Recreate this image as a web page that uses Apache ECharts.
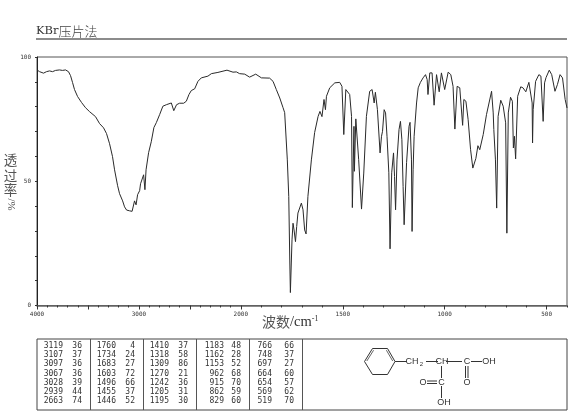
<!DOCTYPE html>
<html>
<head>
<meta charset="utf-8">
<style>html,body{margin:0;padding:0;background:#fff}#c{width:570px;height:417px}</style>
<script src="https://cdn.jsdelivr.net/npm/echarts@6/dist/echarts.min.js"></script>
</head>
<body>
<div id="c"></div>
<script>
const wavenumbers = [4000,3975,3936,3907,3877,3848,3818,3779,3750,3720,3691,3671,3651,3632,3602,3563,3524,3484,3426,3386,3347,3318,3288,3259,3239,3209,3190,3160,3141,3121,3092,3067,3060,3043,3028,3013,2993,2984,2954,2941,2930,2905,2879,2853,2829,2797,2765,2731,2682,2658,2631,2601,2561,2535,2509,2486,2453,2421,2388,2323,2289,2225,2136,2077,2044,2012,1981,1957,1927,1899,1859,1842,1826,1809,1793,1785,1772,1765,1760,1757,1749,1744,1739,1732,1726,1720,1703,1695,1687,1680,1671,1654,1638,1621,1612,1602,1592,1585,1580,1564,1539,1515,1504,1495,1485,1477,1466,1457,1453,1445,1443,1436,1422,1408,1397,1384,1368,1356,1346,1340,1330,1317,1310,1305,1297,1290,1283,1274,1268,1260,1251,1246,1241,1234,1224,1217,1210,1204,1199,1192,1187,1175,1170,1163,1160,1155,1150,1138,1130,1119,1106,1094,1086,1082,1073,1062,1052,1040,1027,1016,1008,1000,983,970,959,950,939,926,912,906,896,885,873,862,847,837,828,811,795,770,762,759,751,745,738,725,713,701,695,688,677,668,663,658,652,642,627,616,602,587,579,571,569,566,554,538,528,517,510,503,487,475,459,447,434,422,409,400];
const transmittance = [94.8,94.1,93.5,94.1,94.4,94.1,94.6,94.8,94.6,94.8,94.1,92.5,89.7,86.9,84.1,81.7,79.6,78.0,76.0,73.2,71.5,69.2,65.1,59.9,54.6,48.2,45.0,42.1,39.7,38.4,38.1,37.9,37.9,42.1,40.5,44.6,46.2,49.0,52.6,46.6,54.6,61.5,65.9,71.6,73.6,76.8,80.2,80.8,81.5,78.4,80.8,81.4,81.4,82.2,84.9,86.5,87.2,90.2,91.6,92.3,93.3,93.8,94.7,93.9,94.0,93.3,93.1,91.9,93.1,91.6,91.5,90.2,86.9,83.5,79.6,77.6,58.6,43.9,18.3,5.2,26.4,33.1,30.4,25.7,31.8,37.2,41.2,38.5,30.4,28.8,43.9,58.6,69.6,76.1,78.1,76.0,82.9,78.8,84.2,87.6,89.6,89.8,88.2,68.8,86.9,87.3,84.9,76.1,39.4,72.1,54.0,75.1,58.7,38.8,53.3,76.1,86.2,86.9,81.5,85.8,78.8,61.4,68.1,70.1,78.8,77.5,68.1,53.4,22.8,53.4,61.4,51.9,38.5,58.6,70.8,74.1,66.7,47.9,32.5,32.5,57.5,72.1,73.7,58.6,29.8,54.6,68.1,81.5,87.6,89.8,91.6,92.9,90.9,84.9,93.6,93.6,80.6,92.9,86.0,93.6,92.9,86.9,93.9,92.9,88.2,71.0,88.2,87.6,72.5,82.9,82.2,74.8,62.7,55.3,59.2,64.3,62.7,68.8,76.8,86.2,77.5,70.8,58.6,39.2,76.1,82.6,80.2,73.5,29.1,77.5,83.8,82.2,63.4,68.1,59.0,84.2,88.0,87.6,86.0,89.8,89.6,81.5,65.4,78.8,90.2,92.9,92.3,74.1,89.6,91.7,94.7,92.9,86.2,88.9,92.9,91.6,82.9,79.5];
const xLabelValues = [4000,3000,2000,1500,1000,500];
const xMajorTicks = [4000,3500,3000,2500,2000,1500,1000,500];
const xMinorTicks = [3900,3800,3700,3600,3400,3300,3200,3100,2900,2800,2700,2600,2400,2300,2200,2100,1900,1800,1700,1600,1400,1300,1200,1100,900,800,700,600,400];
const peakWavenumbers = [
  [3119,3107,3097,3067,3028,2939,2663],
  [1760,1734,1683,1603,1496,1455,1446],
  [1410,1318,1309,1270,1242,1205,1195],
  [1183,1162,1153,962,915,862,829],
  [766,748,697,664,654,569,519]
];
const peakTransmittance = [
  [36,37,36,36,39,44,74],
  [4,24,27,72,66,37,52],
  [37,58,86,21,36,31,30],
  [48,28,52,68,70,59,60],
  [66,37,27,60,57,62,70]
];
const titleText = 'KBr';
const titleCjk = '压片法';
const yNameChars = ['透','过','率'];
const yNameRotated = '/%';

// The instrument chart doubles its scale below 2000 cm-1.
const toAxis = w => w >= 2000 ? (4000 - w) / 2 : 1000 + (2000 - w);
const fromAxis = u => u <= 1000 ? 4000 - 2 * u : 2000 - (u - 1000);
const spectrum = wavenumbers.map((w, i) => [toAxis(w), transmittance[i]]);

const INK = '#333';
const CJK = '"Noto Sans CJK SC"';
const graphic = [];
const line = (x1, y1, x2, y2, stroke = INK, lineWidth = 1) => graphic.push({
  type: 'line', silent: true,
  shape: {x1, y1, x2, y2}, style: {stroke, lineWidth}
});
const label = (text, x, y, opts = {}) => graphic.push({
  type: 'text', silent: true, x, y, rotation: opts.rotation || 0,
  style: {
    text, fill: opts.fill || INK, fontSize: opts.size || 9,
    fontFamily: opts.family || '"Liberation Sans"',
    align: opts.align || 'center', verticalAlign: opts.v || 'middle',
    rich: opts.rich
  }
});

// Title and rule
label('{a|' + titleText + '}{b|' + titleCjk + '}', 36, 38, {
  align: 'left', v: 'bottom', size: 13,
  rich: {
    a: {fontFamily: '"DejaVu Serif"', fontSize: 11.5, fill: '#333'},
    b: {fontFamily: CJK, fontSize: 13, fontWeight: 300, fill: '#444'}
  }
});
line(36, 39, 567, 39, '#666', 1.5);

// Axis names
yNameChars.forEach((ch, i) => label(ch, 10.5, [160, 175.5, 189.5][i], {size: 13.5, family: CJK, fill: '#555'}));
label(yNameRotated, 10.5, 204.5, {size: 11, family: '"Liberation Serif"', rotation: -Math.PI / 2, fill: '#444'});
label('{b|波数}{a|/cm}{s|-1}', 262, 322, {
  align: 'left', size: 14,
  rich: {
    a: {fontFamily: '"Liberation Serif"', fontSize: 14.5, fill: '#333'},
    b: {fontFamily: CJK, fontSize: 14, fill: '#555'},
    s: {fontFamily: '"Liberation Serif"', fontSize: 8, fill: '#333', verticalAlign: 'top', padding: [0, 0, 6, 0]}
  }
});

// Peak table
const tableLeft = 37, tableRight = 567, tableTop = 339, tableBottom = 410;
graphic.push({type: 'rect', silent: true,
  shape: {x: tableLeft, y: tableTop, width: tableRight - tableLeft, height: tableBottom - tableTop},
  style: {fill: 'none', stroke: '#444', lineWidth: 1}});
[90.5, 143.5, 196.5, 249.5, 302.5].forEach(x => line(x, tableTop, x, tableBottom, '#555', 1));
const numRight = [63, 116, 169, 224, 272];
const valRight = [82, 135, 188, 241, 294];
peakWavenumbers.forEach((col, c) => col.forEach((w, r) => {
  const y = 346 + r * 9.2;
  label(String(w), numRight[c], y, {align: 'right', size: 8, family: '"DejaVu Sans Mono"'});
  label(String(peakTransmittance[c][r]), valRight[c], y, {align: 'right', size: 8, family: '"DejaVu Sans Mono"'});
}));

// Structure
const ring = [[364.5,361.5],[372.5,348.5],[387.5,348.5],[395,361.5],[387.5,374.5],[372.5,374.5]];
ring.forEach((p, i) => { const q = ring[(i + 1) % 6]; line(p[0], p[1], q[0], q[1], '#333', 1); });
line(366.8, 361, 373.6, 350.2, '#666', 1);
line(386.4, 350.2, 392.7, 361, '#666', 1);
line(395, 361.5, 407, 361.5);
line(426, 361.5, 438, 361.5);
line(446, 361.5, 462, 361.5);
line(471, 361.5, 482, 361.5);
line(441.5, 366, 441.5, 378);
line(441.5, 386, 441.5, 398);
line(465.5, 366, 465.5, 378);
line(468, 366, 468, 378);
line(427, 381, 437, 381);
line(427, 383.5, 437, 383.5);
label('CH', 412, 362, {size: 9});
label('2', 421.5, 364.5, {size: 6});
label('CH', 442, 362, {size: 9});
label('C', 467, 362, {size: 9});
label('OH', 489, 362, {size: 9});
label('O', 467, 382.5, {size: 9});
label('C', 441.5, 382.5, {size: 9});
label('O', 423, 382.5, {size: 9});
label('OH', 444, 403, {size: 9});

const tickFont = {fontFamily: '"DejaVu Sans Mono"', fontSize: 6, color: '#333'};
const chart = echarts.init(document.getElementById('c'), null, {renderer: 'canvas'});
chart.setOption({
  animation: false,
  backgroundColor: '#fff',
  grid: {left: 37, right: 3, top: 57, bottom: 111.5, show: true, borderColor: '#555', borderWidth: 1, backgroundColor: 'transparent'},
  xAxis: [
    {
      type: 'value', min: 0, max: 2600, position: 'bottom',
      splitLine: {show: false},
      axisLine: {show: true, lineStyle: {color: '#666', width: 1.5}},
      axisTick: {show: true, length: 2, customValues: xMinorTicks.map(toAxis), lineStyle: {color: '#333'}},
      axisLabel: {show: false}
    },
    {
      type: 'value', min: 0, max: 2600, position: 'bottom',
      splitLine: {show: false},
      axisLine: {show: false},
      axisTick: {show: true, length: 4, customValues: xMajorTicks.map(toAxis), lineStyle: {color: '#333'}},
      axisLabel: {
        show: true, margin: 6, hideOverlap: false,
        customValues: xLabelValues.map(toAxis),
        formatter: v => String(Math.round(fromAxis(v))),
        ...tickFont
      }
    }
  ],
  yAxis: {
    type: 'value', min: 0, max: 100, interval: 50,
    splitLine: {show: false},
    axisLine: {show: true, lineStyle: {color: '#222', width: 1}},
    axisTick: {show: true, length: 2, lineStyle: {color: '#333'}},
    minorTick: {show: true, splitNumber: 5, length: 2, lineStyle: {color: '#333'}},
    axisLabel: {margin: 6, ...tickFont}
  },
  series: [{
    type: 'line', data: spectrum, xAxisIndex: 0, showSymbol: false, smooth: false,
    lineStyle: {color: '#2a2a2a', width: 1}, silent: true, clip: true
  }],
  graphic: {elements: graphic}
});
</script>
</body>
</html>
